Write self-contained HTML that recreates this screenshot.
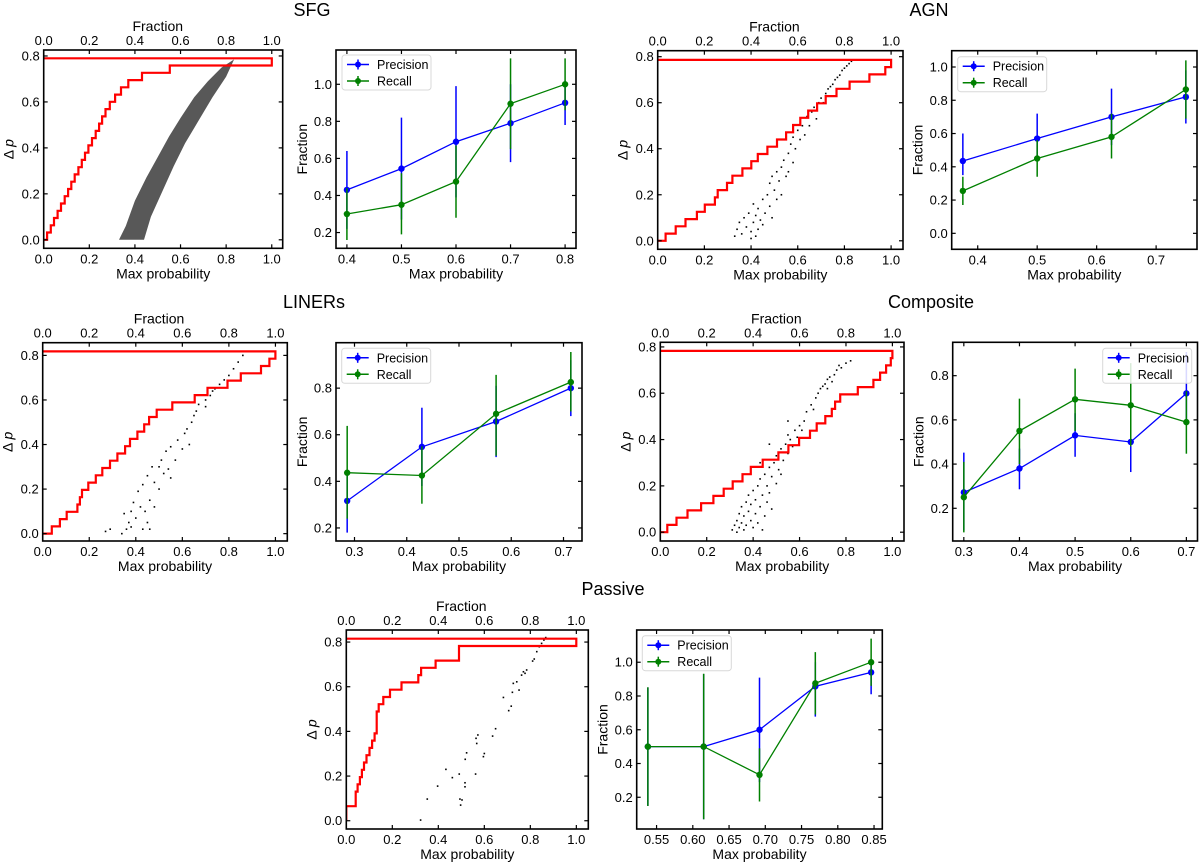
<!DOCTYPE html>
<html><head><meta charset="utf-8"><title>Max probability panels</title>
<style>
html,body{margin:0;padding:0;background:#fff;}
svg{display:block;font-family:"Liberation Sans","DejaVu Sans",sans-serif;}
</style></head>
<body>
<svg id="fig" width="1200" height="863" viewBox="0 0 1200 863">
<rect x="0" y="0" width="1200" height="863" fill="#fff"/>
<text x="312" y="16" font-size="18" text-anchor="middle">SFG</text>
<text x="929" y="16" font-size="18" text-anchor="middle">AGN</text>
<text x="314" y="308" font-size="18" text-anchor="middle">LINERs</text>
<text x="931" y="308" font-size="18" text-anchor="middle">Composite</text>
<text x="613" y="595" font-size="18" text-anchor="middle">Passive</text>
</svg>
<script>
// ---------- DATA ----------
const sfgHistTop = 0.79;
const sfgHistCum = [0.015,0.031,0.045,0.061,0.076,0.092,0.107,0.121,0.136,0.152,0.167,0.181,0.196,0.212,0.228,0.243,0.256,0.271,0.29,0.313,0.339,0.371,0.431,0.553,1.0];
const agnHistTop = 0.786;
const agnHistCum = [0.034,0.077,0.119,0.168,0.202,0.245,0.257,0.297,0.32,0.363,0.401,0.429,0.47,0.511,0.55,0.58,0.611,0.645,0.683,0.72,0.766,0.822,0.907,0.975,1.0];
const linHistTop = 0.818;
const linHistCum = [0.039,0.074,0.103,0.149,0.16,0.169,0.196,0.228,0.256,0.289,0.321,0.354,0.375,0.407,0.436,0.457,0.49,0.557,0.653,0.708,0.794,0.851,0.938,0.974,1.0];
const comHistTop = 0.783;
const comHistCum = [0.03,0.07,0.117,0.176,0.229,0.273,0.312,0.354,0.39,0.441,0.509,0.552,0.598,0.645,0.674,0.711,0.739,0.753,0.775,0.851,0.918,0.947,0.973,0.993,1.0];
const pasHistTop = 0.815;
const pasHistCum = [0,0,0.041,0.041,0.049,0.059,0.068,0.077,0.088,0.101,0.112,0.123,0.132,0.132,0.132,0.141,0.161,0.19,0.24,0.313,0.325,0.388,0.49,0.49,1.0];

const sfgCloudP = [0.33,0.36,0.40,0.45,0.50,0.55,0.60,0.66,0.72,0.78,0.835,0.80,0.74,0.68,0.62,0.57,0.52,0.47,0.44];
const sfgCloudD = [0.0,0.06,0.17,0.27,0.36,0.45,0.53,0.62,0.69,0.75,0.785,0.71,0.62,0.52,0.42,0.32,0.21,0.10,0.0];

const agnPtsP = [.33,.34,.35,.36,.37,.38,.39,.40,.40,.41,.41,.42,.42,.43,.43,.44,.45,.45,.46,.47,.48,.48,.49,.49,.5,.51,.51,.52,.53,.53,.54,.55,.56,.56,.57,.58,.58,.59,.6,.61,.62,.63,.64,.65,.66,.67,.68,.69,.7,.71,.72,.73,.74,.75,.76,.77,.78,.79,.8,.81,.82,.83];
const agnPtsD = [.02,.05,.08,.03,.1,.06,.12,.01,.04,.08,.16,.02,.11,.05,.14,.09,.07,.18,.12,.2,.15,.25,.1,.28,.22,.18,.3,.26,.32,.2,.35,.28,.38,.3,.42,.34,.45,.4,.48,.44,.5,.46,.54,.5,.56,.58,.53,.6,.62,.6,.64,.66,.67,.68,.7,.71,.72,.74,.75,.76,.77,.78];
const linPtsP = [.27,.29,.34,.36,.35,.37,.38,.38,.39,.4,.41,.42,.43,.43,.44,.45,.45,.46,.46,.47,.48,.48,.5,.5,.51,.52,.53,.54,.55,.55,.57,.58,.6,.61,.62,.63,.64,.65,.66,.67,.7,.7,.72,.73,.74,.76,.78,.8,.82,.84,.86];
const linPtsD = [.01,.02,.0,.02,.09,.05,.03,.1,.14,.07,.19,.12,.02,.22,.1,.05,.26,.15,.02,.3,.12,.23,.2,.3,.33,.27,.37,.29,.39,.25,.33,.42,.38,.45,.47,.4,.5,.53,.55,.58,.57,.6,.62,.64,.65,.67,.69,.71,.74,.77,.8];
const comPtsP = [.31,.32,.33,.33,.34,.34,.35,.35,.36,.36,.37,.37,.38,.38,.39,.39,.40,.40,.41,.41,.42,.42,.43,.43,.44,.44,.45,.45,.46,.46,.47,.47,.48,.48,.49,.5,.5,.51,.52,.52,.53,.54,.55,.55,.56,.57,.58,.59,.6,.61,.62,.63,.65,.66,.67,.68,.69,.7,.71,.72,.72,.73,.74,.75,.76,.77,.78,.8,.82,.43,.47,.55];
const comPtsD = [.01,.03,.0,.05,.02,.08,.04,.11,.01,.07,.13,.03,.09,.16,.05,.12,.02,.18,.08,.14,.2,.04,.11,.23,.16,.01,.07,.25,.13,.2,.28,.17,.24,.1,.3,.21,.33,.27,.36,.25,.31,.38,.34,.42,.4,.37,.44,.41,.46,.44,.48,.52,.55,.53,.58,.6,.62,.63,.64,.66,.62,.67,.65,.68,.7,.72,.71,.73,.74,.3,.38,.48];
const pasPtsP = [.323,.352,.397,.433,.461,.491,.494,.497,.503,.516,.516,.517,.523,.562,.564,.567,.572,.596,.6,.636,.649,.683,.706,.717,.722,.726,.741,.751,.762,.77,.777,.784,.81,.817,.828,.839,.849,.859,.867];
const pasPtsD = [.003,.097,.155,.23,.193,.209,.097,.07,.093,.17,.152,.275,.304,.209,.369,.346,.384,.287,.301,.379,.412,.552,.493,.513,.575,.615,.622,.585,.652,.667,.66,.675,.715,.724,.757,.779,.794,.809,.82];

const sfgProb = [0.4,0.5,0.6,0.7,0.8];
const sfgPrec = [0.43,0.545,0.69,0.79,0.90];
const sfgPrecLo = [0.22,0.27,0.39,0.58,0.78];
const sfgPrecHi = [0.64,0.82,0.99,1.0,1.02];
const sfgRec = [0.30,0.35,0.475,0.895,1.0];
const sfgRecLo = [0.16,0.19,0.28,0.65,0.86];
const sfgRecHi = [0.44,0.52,0.67,1.14,1.14];

const agnProb = [0.375,0.5,0.625,0.75];
const agnPrec = [0.435,0.57,0.70,0.82];
const agnPrecLo = [0.35,0.43,0.53,0.66];
const agnPrecHi = [0.60,0.72,0.87,0.98];
const agnRec = [0.255,0.45,0.58,0.865];
const agnRecLo = [0.17,0.34,0.45,0.69];
const agnRecHi = [0.34,0.56,0.72,1.04];

const linProb = [0.286,0.429,0.571,0.714];
const linPrec = [0.316,0.548,0.657,0.80];
const linPrecLo = [0.18,0.38,0.504,0.68];
const linPrecHi = [0.45,0.716,0.81,0.92];
const linRec = [0.437,0.425,0.69,0.826];
const linRecLo = [0.24,0.304,0.51,0.70];
const linRecHi = [0.638,0.55,0.857,0.955];

const comProb = [0.3,0.4,0.5,0.6,0.7];
const comPrec = [0.272,0.38,0.53,0.50,0.72];
const comPrecLo = [0.10,0.286,0.433,0.364,0.58];
const comPrecHi = [0.452,0.47,0.63,0.64,0.907];
const comRec = [0.25,0.55,0.693,0.666,0.59];
const comRecLo = [0.091,0.40,0.55,0.48,0.447];
const comRecHi = [0.41,0.696,0.832,0.857,0.73];

const pasProb = [0.538,0.615,0.692,0.769,0.846];
const pasPrec = [0.5,0.5,0.6,0.857,0.94];
const pasPrecLo = [0.15,0.07,0.29,0.678,0.81];
const pasPrecHi = [0.85,0.93,0.909,1.0,1.02];
const pasRec = [0.5,0.5,0.333,0.875,1.0];
const pasRecLo = [0.148,0.07,0.175,0.69,0.86];
const pasRecHi = [0.852,0.932,0.49,1.06,1.14];

const scatterTicksX = [0,0.2,0.4,0.6,0.8,1.0];
const scatterTicksY = [0,0.2,0.4,0.6,0.8];

// ---------- DRAWING ----------
const NS = 'http://www.w3.org/2000/svg';
const svg = document.getElementById('fig');
function mk(tag, attrs, parent) {
  const e = document.createElementNS(NS, tag);
  for (const k in attrs) e.setAttribute(k, attrs[k]);
  parent.appendChild(e);
  return e;
}
let clipId = 0;

function frameAndTicks(g, box, X, Y, xt, yt, xfmt, yfmt, topLabels, name) {
  let el;
  for (const v of xt) {
    const x = X(v);
    el = mk('line', {x1:x, x2:x, y1:box.b, y2:box.b-4, stroke:'#000', 'stroke-width':1.2}, g);
    
    
    el = mk('line', {x1:x, x2:x, y1:box.t, y2:box.t+4, stroke:'#000', 'stroke-width':1.2}, g);
    
    
    el = mk('text', {x:x, y:box.b+15, 'font-size':13, 'text-anchor':'middle'}, g);
    el.textContent = xfmt(v);
    
    
    if (topLabels) {
      el = mk('text', {x:x, y:box.t-5, 'font-size':13, 'text-anchor':'middle'}, g);
      el.textContent = xfmt(v);
      
      
    }
  }
  for (const v of yt) {
    const y = Y(v);
    el = mk('line', {x1:box.l, x2:box.l+4, y1:y, y2:y, stroke:'#000', 'stroke-width':1.2}, g);
    
    
    el = mk('line', {x1:box.r, x2:box.r-4, y1:y, y2:y, stroke:'#000', 'stroke-width':1.2}, g);
    
    
    el = mk('text', {x:box.l-4, y:y+4.5, 'font-size':13, 'text-anchor':'end'}, g);
    el.textContent = yfmt(v);
    
    
  }
  el = mk('rect', {x:box.l, y:box.t, width:box.r-box.l, height:box.b-box.t, fill:'none', stroke:'#000', 'stroke-width':1.6}, g);
  
  
}

function clipFor(box) {
  clipId++;
  const cp = mk('clipPath', {id:'cp'+clipId}, svg);
  mk('rect', {x:box.l, y:box.t, width:box.r-box.l, height:box.b-box.t}, cp);
  return 'url(#cp'+clipId+')';
}

function scatterPanel(name, box, xlim, ylim, histTop, histCum, ptsP, ptsD, cloudP, cloudD) {
  const g = mk('g', {}, svg);
  
  
  const X = v => box.l + (v - xlim[0]) / (xlim[1] - xlim[0]) * (box.r - box.l);
  const Y = v => box.b - (v - ylim[0]) / (ylim[1] - ylim[0]) * (box.b - box.t);
  const clip = clipFor(box);
  const inner = mk('g', {'clip-path':clip}, g);
  
  
  let el;
  if (cloudP) {
    const pts = cloudP.map((p,i) => X(p).toFixed(1) + ',' + Y(cloudD[i]).toFixed(1)).join(' ');
    el = mk('polygon', {points:pts, fill:'#111', 'fill-opacity':0.7}, inner);
    
    
  }
  for (let i = 0; i < ptsP.length; i++) {
    el = mk('rect', {x:X(ptsP[i])-0.8, y:Y(ptsD[i])-0.8, width:1.6, height:1.6, fill:'#000'}, inner);
    
    
  }
  const n = histCum.length, w = histTop / n;
  let d = 'M' + X(0) + ',' + Y(0);
  for (let k = 0; k < n; k++) {
    d += ' L' + X(histCum[k]).toFixed(1) + ',' + Y(k*w).toFixed(1);
    d += ' L' + X(histCum[k]).toFixed(1) + ',' + Y((k+1)*w).toFixed(1);
  }
  d += ' L' + X(0) + ',' + Y(histTop).toFixed(1);
  el = mk('path', {d:d, fill:'none', stroke:'#ff0000', 'stroke-width':2.2, 'stroke-linejoin':'miter'}, inner);
  
  

  frameAndTicks(g, box, X, Y, scatterTicksX, scatterTicksY, v => v.toFixed(1), v => v.toFixed(1), true, name);
  el = mk('text', {x:(box.l+box.r)/2, y:box.b+30, 'font-size':14, 'text-anchor':'middle'}, g);
  el.textContent = 'Max probability';
  
  
  el = mk('text', {x:X(0.5), y:box.t-19, 'font-size':14, 'text-anchor':'middle'}, g);
  el.textContent = 'Fraction';
  
  
  const cy = (box.t + box.b) / 2, cx = box.l - 30;
  el = mk('text', {x:cx, y:cy, 'font-size':14, 'text-anchor':'middle', transform:'rotate(-90 '+cx+' '+cy+')'}, g);
  el.innerHTML = 'Δ <tspan font-style="italic">p</tspan>';
  
  
}

function series(g, inner, name, X, Y, probs, vals, lo, hi, color) {
  let el;
  for (let i = 0; i < probs.length; i++) {
    el = mk('line', {x1:X(probs[i]), x2:X(probs[i]), y1:Y(lo[i]), y2:Y(hi[i]), stroke:color, 'stroke-width':1.5}, inner);
    
    
  }
  const pts = probs.map((p,i) => X(p).toFixed(1) + ',' + Y(vals[i]).toFixed(1)).join(' ');
  el = mk('polyline', {points:pts, fill:'none', stroke:color, 'stroke-width':1.3}, inner);
  
  
  for (let i = 0; i < probs.length; i++) {
    el = mk('circle', {cx:X(probs[i]), cy:Y(vals[i]), r:3.2, fill:color}, inner);
    
    
  }
}

function prPanel(name, box, ylim, xt, yt, xdec, probs, prec, precLo, precHi, rec, recLo, recHi, legend) {
  const g = mk('g', {}, svg);
  
  
  const span = probs[probs.length-1] - probs[0];
  const xlim = [probs[0] - 0.05*span, probs[probs.length-1] + 0.05*span];
  const X = v => box.l + (v - xlim[0]) / (xlim[1] - xlim[0]) * (box.r - box.l);
  const Y = v => box.b - (v - ylim[0]) / (ylim[1] - ylim[0]) * (box.b - box.t);
  const inner = mk('g', {'clip-path':clipFor(box)}, g);
  
  
  series(g, inner, name + '-precision', X, Y, probs, prec, precLo, precHi, '#0000ff');
  series(g, inner, name + '-recall', X, Y, probs, rec, recLo, recHi, '#008000');
  frameAndTicks(g, box, X, Y, xt, yt, v => v.toFixed(xdec), v => v.toFixed(1), false, name + '-pr');
  let el;
  el = mk('text', {x:(box.l+box.r)/2, y:box.b+30, 'font-size':14, 'text-anchor':'middle'}, g);
  el.textContent = 'Max probability';
  
  
  const cy = (box.t + box.b) / 2, cx = box.l - 29;
  el = mk('text', {x:cx, y:cy, 'font-size':14, 'text-anchor':'middle', transform:'rotate(-90 '+cx+' '+cy+')'}, g);
  el.textContent = 'Fraction';
  
  
  const lg = mk('g', {}, g);
  
  
  el = mk('rect', {x:legend.x, y:legend.y, width:89, height:35, rx:3, fill:'#fff', 'fill-opacity':0.85, stroke:'#d8d8d8', 'stroke-width':1}, lg);
  
  
  const entries = [['Precision','#0000ff'],['Recall','#008000']];
  entries.forEach((en, i) => {
    const y = legend.y + 9.5 + i*16.5;
    const x0 = legend.x + 5, x1 = legend.x + 27;
    el = mk('line', {x1:x0, x2:x1, y1:y, y2:y, stroke:en[1], 'stroke-width':1.5}, lg);
    
    
    el = mk('line', {x1:(x0+x1)/2, x2:(x0+x1)/2, y1:y-5, y2:y+5, stroke:en[1], 'stroke-width':1.5}, lg);
    
    
    el = mk('circle', {cx:(x0+x1)/2, cy:y, r:3, fill:en[1]}, lg);
    
    
    el = mk('text', {x:legend.x+35, y:y+4.5, 'font-size':12.5}, lg);
    el.textContent = en[0];
    
    
  });
}

scatterPanel('sfg', {l:43.7,t:50,r:282.7,b:248.3}, [0,1.048], [-0.037,0.826], sfgHistTop, sfgHistCum, [], [], sfgCloudP, sfgCloudD);
prPanel('sfg', {l:336,t:50,r:576,b:248.3}, [0.115,1.185], [0.4,0.5,0.6,0.7,0.8], [0.2,0.4,0.6,0.8,1.0], 1,
  sfgProb, sfgPrec, sfgPrecLo, sfgPrecHi, sfgRec, sfgRecLo, sfgRecHi, {x:342, y:55});

scatterPanel('agn', {l:657.7,t:50.7,r:903,b:249.3}, [0,1.051], [-0.037,0.826], agnHistTop, agnHistCum, agnPtsP, agnPtsD, null, null);
prPanel('agn', {l:951.7,t:50.7,r:1197,b:249.3}, [-0.096,1.098], [0.4,0.5,0.6,0.7], [0,0.2,0.4,0.6,0.8,1.0], 1,
  agnProb, agnPrec, agnPrecLo, agnPrecHi, agnRec, agnRecLo, agnRecHi, {x:957.7, y:56.7});

scatterPanel('liners', {l:42.7,t:342.7,r:287.3,b:541}, [0,1.051], [-0.033,0.857], linHistTop, linHistCum, linPtsP, linPtsD, null, null);
prPanel('liners', {l:336,t:342.7,r:582,b:541}, [0.144,0.995], [0.3,0.4,0.5,0.6,0.7], [0.2,0.4,0.6,0.8], 1,
  linProb, linPrec, linPrecLo, linPrecHi, linRec, linRecLo, linRecHi, {x:341.7, y:348.3});

scatterPanel('composite', {l:660.3,t:342.3,r:904,b:541}, [0,1.05], [-0.038,0.82], comHistTop, comHistCum, comPtsP, comPtsD, null, null);
prPanel('composite', {l:952.7,t:342.3,r:1197.5,b:541}, [0.052,0.951], [0.3,0.4,0.5,0.6,0.7], [0.2,0.4,0.6,0.8], 1,
  comProb, comPrec, comPrecLo, comPrecHi, comRec, comRecLo, comRecHi, {x:1102.7, y:348.3});

scatterPanel('passive', {l:346.3,t:630,r:588.3,b:829}, [0,1.052], [-0.037,0.854], pasHistTop, pasHistCum, pasPtsP, pasPtsD, null, null);
prPanel('passive', {l:636.7,t:630,r:882.3,b:829}, [0.012,1.191], [0.55,0.6,0.65,0.7,0.75,0.8,0.85], [0.2,0.4,0.6,0.8,1.0], 2,
  pasProb, pasPrec, pasPrecLo, pasPrecHi, pasRec, pasRecLo, pasRecHi, {x:642.3, y:635.7});
</script>
</body></html>
